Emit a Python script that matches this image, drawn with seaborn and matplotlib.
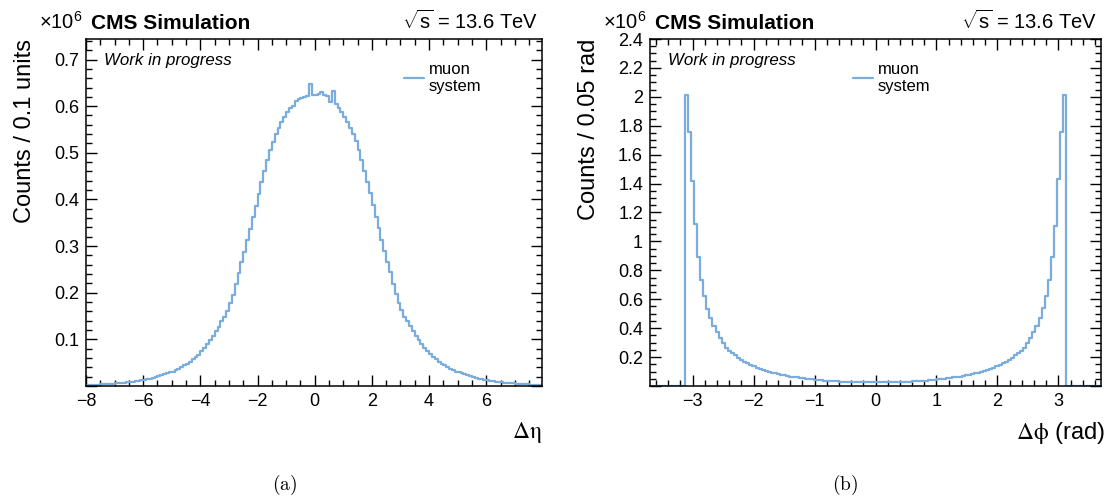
import numpy as np
import pandas as pd
import matplotlib
matplotlib.use("Agg")
import matplotlib.pyplot as plt
from matplotlib.ticker import MultipleLocator, FuncFormatter
from matplotlib.lines import Line2D
import seaborn as sns

sns.set_style("ticks")
plt.rcParams['font.family'] = ['Liberation Sans', 'DejaVu Sans']
plt.rcParams['mathtext.fontset'] = 'custom'
plt.rcParams['mathtext.rm'] = 'Liberation Sans'
plt.rcParams['mathtext.it'] = 'Liberation Sans:italic'
plt.rcParams['mathtext.bf'] = 'Liberation Sans:bold'
for k in ['text.color', 'axes.labelcolor', 'xtick.color', 'ytick.color', 'axes.edgecolor']:
    plt.rcParams[k] = 'black'

# Delta eta, bins of 0.1 from -8 to 8, counts in units of 1e6
eta_neg = [0.002, 0.002, 0.003, 0.003, 0.003, 0.004, 0.004, 0.004, 0.005, 0.005,
           0.006, 0.006, 0.007, 0.007, 0.008, 0.009, 0.009, 0.010, 0.011, 0.012,
           0.013, 0.014, 0.016, 0.017, 0.019, 0.021, 0.023, 0.025, 0.027, 0.029,
           0.031, 0.034, 0.037, 0.040, 0.044, 0.048, 0.052, 0.057, 0.062, 0.067,
           0.074, 0.081, 0.089, 0.098, 0.107, 0.117, 0.127, 0.139, 0.148, 0.161,
           0.177, 0.196, 0.218, 0.243, 0.265, 0.288, 0.312, 0.337, 0.362, 0.387,
           0.412, 0.437, 0.461, 0.484, 0.505, 0.524, 0.540, 0.553, 0.565, 0.577,
           0.588, 0.595, 0.601, 0.611, 0.616, 0.618, 0.620, 0.622, 0.648, 0.625]
eta_pos = [0.625, 0.626, 0.630, 0.624, 0.622, 0.609, 0.632, 0.604, 0.596, 0.588,
           0.577, 0.566, 0.554, 0.541, 0.525, 0.506, 0.485, 0.462, 0.438, 0.413,
           0.388, 0.363, 0.338, 0.313, 0.289, 0.266, 0.244, 0.219, 0.197, 0.178,
           0.162, 0.149, 0.139, 0.128, 0.118, 0.108, 0.099, 0.090, 0.082, 0.075,
           0.068, 0.062, 0.057, 0.052, 0.048, 0.044, 0.040, 0.037, 0.034, 0.031,
           0.029, 0.027, 0.025, 0.023, 0.021, 0.019, 0.017, 0.016, 0.014, 0.013,
           0.012, 0.011, 0.010, 0.009, 0.009, 0.008, 0.007, 0.007, 0.006, 0.006,
           0.005, 0.005, 0.004, 0.004, 0.004, 0.003, 0.003, 0.003, 0.002, 0.002]

# Delta phi, 124 bins between -3.13 and 3.13, counts in units of 1e6
phi_neg = [2.01, 1.76, 1.42, 1.12, 0.89, 0.735, 0.62, 0.536, 0.469, 0.416,
           0.372, 0.332, 0.296, 0.266, 0.245, 0.228, 0.212, 0.197, 0.182, 0.168,
           0.156, 0.145, 0.135, 0.126, 0.118, 0.111, 0.104, 0.098, 0.092, 0.087,
           0.082, 0.077, 0.073, 0.069, 0.065, 0.062, 0.059, 0.056, 0.053, 0.051,
           0.048, 0.046, 0.044, 0.042, 0.040, 0.038, 0.037, 0.035, 0.034, 0.033,
           0.031, 0.030, 0.029, 0.028, 0.028, 0.027, 0.026, 0.026, 0.025, 0.025,
           0.025, 0.025]
phi_pos = [0.025, 0.025, 0.025, 0.025, 0.026, 0.026, 0.027, 0.028, 0.028, 0.029,
           0.030, 0.031, 0.033, 0.034, 0.035, 0.037, 0.038, 0.040, 0.042, 0.044,
           0.046, 0.048, 0.051, 0.053, 0.056, 0.059, 0.062, 0.065, 0.069, 0.073,
           0.077, 0.082, 0.087, 0.092, 0.098, 0.104, 0.111, 0.118, 0.126, 0.135,
           0.145, 0.156, 0.168, 0.182, 0.197, 0.212, 0.228, 0.245, 0.266, 0.296,
           0.332, 0.372, 0.416, 0.469, 0.537, 0.62, 0.735, 0.89, 1.11, 1.43,
           1.76, 2.01]

color = '#7aaddb'

eta_edges = np.linspace(-8, 8, 161)
eta_df = pd.DataFrame({'x': (eta_edges[:-1] + eta_edges[1:]) / 2,
                       'w': eta_neg + eta_pos})
# phi histogram: empty outside the filled range, axis runs -3.7..3.7
phi_edges = np.concatenate([[-3.7], np.linspace(-3.13, 3.13, 125), [3.7]])
phi_df = pd.DataFrame({'x': (phi_edges[:-1] + phi_edges[1:]) / 2,
                       'w': [0.0] + phi_neg + phi_pos + [0.0]})


def xfmt(v, pos):
    return f'{v:g}'.replace('-', '\u2212')


def yfmt(v, pos):
    if abs(v) < 1e-9:
        return ''
    return f'{v:g}'


fig = plt.figure(figsize=(11.07, 4.97), dpi=100)
ax1 = fig.add_axes([86 / 1107, 1 - 386 / 497, 456 / 1107, 347 / 497])
ax2 = fig.add_axes([650 / 1107, 1 - 386 / 497, 451 / 1107, 347 / 497])

sns.histplot(data=eta_df, x='x', weights='w', bins=eta_edges.tolist(),
             element='step', fill=False, color=color, linewidth=1.6, ax=ax1)
sns.histplot(data=phi_df, x='x', weights='w', bins=phi_edges.tolist(),
             element='step', fill=False, color=color, linewidth=1.6, ax=ax2)

ax1.set_xlim(-8, 7.95)
ax1.set_ylim(0, 0.744)
ax2.set_xlim(-3.7, 3.7)
ax2.set_ylim(0, 2.4)

ax1.xaxis.set_major_locator(MultipleLocator(2))
ax1.xaxis.set_minor_locator(MultipleLocator(0.5))
ax1.yaxis.set_major_locator(MultipleLocator(0.1))
ax1.yaxis.set_minor_locator(MultipleLocator(0.02))
ax2.xaxis.set_major_locator(MultipleLocator(1))
ax2.xaxis.set_minor_locator(MultipleLocator(0.2))
ax2.yaxis.set_major_locator(MultipleLocator(0.2))
ax2.yaxis.set_minor_locator(MultipleLocator(0.05))

for ax, lx, ly, xl, yl in [
        (ax1, 0.697, -0.11, r'$\mathrm{\Delta\eta}$', 'Counts / 0.1 units'),
        (ax2, 0.45, -0.11, r'$\mathrm{\Delta\phi}$ (rad)', 'Counts / 0.05 rad')]:
    ax.xaxis.set_major_formatter(FuncFormatter(xfmt))
    ax.yaxis.set_major_formatter(FuncFormatter(yfmt))
    ax.tick_params(which='both', direction='in', top=True, right=True,
                   labelsize=13, pad=5, width=1, color='black')
    ax.tick_params(which='major', length=8)
    ax.tick_params(which='minor', length=4)
    for sp in ax.spines.values():
        sp.set_linewidth(1.1)
        sp.set_color('black')
    ax.set_xlabel(xl, fontsize=17, loc='right', math_fontfamily='stix')
    ax.set_ylabel(yl, fontsize=17, loc='top')
    ax.yaxis.set_label_coords(ly, 1.0)
    ax.text(-0.008, 1.03, r'$\times10^{6}$', transform=ax.transAxes,
            ha='right', va='baseline', fontsize=14.5)
    ax.text(0.012, 1.03, 'CMS Simulation', transform=ax.transAxes,
            ha='left', va='baseline', fontsize=15, fontweight='bold')
    ax.text(0.992, 1.03, r'$\sqrt{\mathrm{s}}$ = 13.6 TeV', transform=ax.transAxes,
            ha='right', va='baseline', fontsize=14.5)
    ax.text(0.04, 0.925, 'Work in progress', transform=ax.transAxes,
            ha='left', va='baseline', fontsize=12.2, style='italic')
    ax.legend(handles=[Line2D([], [], color=color, lw=1.6)], labels=['muon\nsystem'],
              loc='upper left', bbox_to_anchor=(lx, 0.935), frameon=False, fontsize=12,
              handlelength=1.2, handletextpad=0.3, borderpad=0, borderaxespad=0)

ax1.xaxis.set_label_coords(1.0, -0.098)
ax2.xaxis.set_label_coords(1.009, -0.098)

fig.text(285 / 1107, 1 - 485 / 497, r'$\mathrm{(a)}$', math_fontfamily='cm',
         ha='center', va='center', fontsize=14)
fig.text(845 / 1107, 1 - 485 / 497, r'$\mathrm{(b)}$', math_fontfamily='cm',
         ha='center', va='center', fontsize=14)

fig.savefig('out.png', dpi=100)
